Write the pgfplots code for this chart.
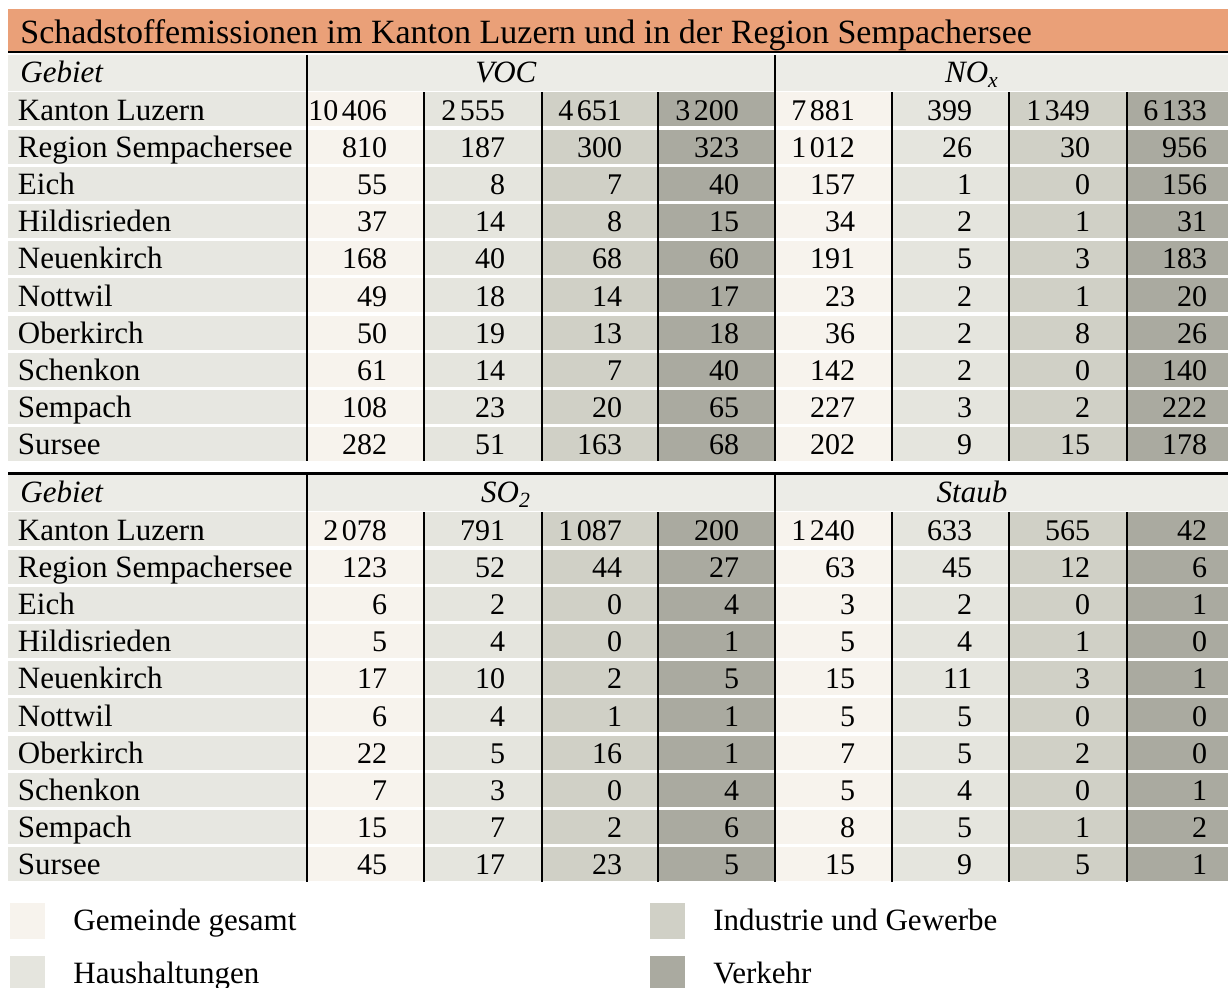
\documentclass[border=0pt]{standalone}
\usepackage{pgfplots}
\pgfplotsset{compat=1.18}
\usepackage{pgfplotstable}
\usepackage{fontspec}
\setmainfont{Liberation Serif}
\definecolor{titleor}{RGB}{234,160,120}
\definecolor{hdr}{RGB}{236,236,231}
\definecolor{lab}{RGB}{231,231,225}
\definecolor{cA}{RGB}{247,243,237}
\definecolor{cB}{RGB}{229,229,222}
\definecolor{cC}{RGB}{208,208,198}
\definecolor{cD}{RGB}{170,170,160}

% VOC: a1..a4, NOx: b1..b4 (gesamt, Haushaltungen, Industrie, Verkehr)
\pgfplotstableread{
name a1 a2 a3 a4 b1 b2 b3 b4
{Kanton Luzern} 10406 2555 4651 3200 7881 399 1349 6133
{Region Sempachersee} 810 187 300 323 1012 26 30 956
Eich 55 8 7 40 157 1 0 156
Hildisrieden 37 14 8 15 34 2 1 31
Neuenkirch 168 40 68 60 191 5 3 183
Nottwil 49 18 14 17 23 2 1 20
Oberkirch 50 19 13 18 36 2 8 26
Schenkon 61 14 7 40 142 2 0 140
Sempach 108 23 20 65 227 3 2 222
Sursee 282 51 163 68 202 9 15 178
}\blockA
% SO2: a1..a4, Staub: b1..b4
\pgfplotstableread{
name a1 a2 a3 a4 b1 b2 b3 b4
{Kanton Luzern} 2078 791 1087 200 1240 633 565 42
{Region Sempachersee} 123 52 44 27 63 45 12 6
Eich 6 2 0 4 3 2 0 1
Hildisrieden 5 4 0 1 5 4 1 0
Neuenkirch 17 10 2 5 15 11 3 1
Nottwil 6 4 1 1 5 5 0 0
Oberkirch 22 5 16 1 7 5 2 0
Schenkon 7 3 0 4 5 4 0 1
Sempach 15 7 2 6 8 5 1 2
Sursee 45 17 23 5 15 9 5 1
}\blockB

\newcommand\numfont{\fontsize{15}{18}\selectfont}
\newcommand\labfont{\fontsize{15.5}{18}\selectfont}

\pgfplotsset{
  numplot/.style={draw=none, mark=none, nodes near coords, point meta=explicit,
    every node near coord/.append style={anchor=base east, inner sep=0pt, outer sep=0pt, font=\numfont, text=black}},
  labplot/.style={draw=none, mark=none, nodes near coords, point meta=explicit symbolic,
    every node near coord/.append style={anchor=base west, inner sep=0pt, outer sep=0pt, font=\labfont, text=black}},
}

\begin{document}
\begin{tikzpicture}
\useasboundingbox (0,0) rectangle (614pt,493.5pt);
\begin{scope}[x=0.5pt,y=-0.5pt,shift={(0pt,493.5pt)}]
  % title bar
  \fill[titleor] (8,9) rectangle (1228,51);
  \fill[black] (8,51) rectangle (1228,53.5);
  \node[anchor=base west, inner sep=0pt, font=\fontsize{17}{20}\selectfont] at (20,44) {Schadstoffemissionen im Kanton Luzern und in der Region Sempachersee};
  % blocks
  \foreach \yH/\hA/\hB in {55/{\textit{VOC}}/{\textit{NO}\textsubscript{\textit{x}}}, 475/{\textit{SO}\textsubscript{\textit{2}}}/{\textit{Staub}}} {
    \fill[hdr] (8,\yH) rectangle (1228,\yH+36);
    \foreach \i in {0,...,9} {
      \pgfmathsetmacro\c{\yH+55+37.2*\i}
      \pgfmathsetmacro\t{\c-17.5}
      \pgfmathsetmacro\b{\c+16.5}
      \fill[lab] (8,\t) rectangle (307,\b);
      \fill[cA] (307,\t) rectangle (424,\b);
      \fill[cB] (424,\t) rectangle (542,\b);
      \fill[cC] (542,\t) rectangle (658,\b);
      \fill[cD] (658,\t) rectangle (775,\b);
      \fill[cA] (775,\t) rectangle (892,\b);
      \fill[cB] (892,\t) rectangle (1009,\b);
      \fill[cC] (1009,\t) rectangle (1127,\b);
      \fill[cD] (1127,\t) rectangle (1228,\b);
    }
    \draw[line width=1pt] (307,\yH) -- (307,\yH+406.5);
    \draw[line width=1pt] (775,\yH) -- (775,\yH+406.5);
    \foreach \xx in {424,542,658,892,1009,1127}
      \draw[line width=0.8pt] (\xx,\yH+37.5) -- (\xx,\yH+406.5);
    \node[anchor=base west, inner sep=0pt, font=\labfont\itshape] at (20,\yH+28) {Gebiet};
    \node[anchor=base, inner sep=0pt, font=\labfont] at (506,\yH+28) {\hA};
    \node[anchor=base, inner sep=0pt, font=\labfont] at (972,\yH+28) {\hB};
  }
  \fill[black] (8,472.5) rectangle (1228,475);
  % legend
  \fill[cA] (10,903) rectangle (45,939);
  \fill[cB] (10,956) rectangle (45,992);
  \fill[cC] (650,903) rectangle (685,939);
  \fill[cD] (650,956) rectangle (685,992);
  \node[anchor=base west, inner sep=0pt, font=\labfont] at (73,930) {Gemeinde gesamt};
  \node[anchor=base west, inner sep=0pt, font=\labfont] at (73,983) {Haushaltungen};
  \node[anchor=base west, inner sep=0pt, font=\labfont] at (713,930) {Industrie und Gewerbe};
  \node[anchor=base west, inner sep=0pt, font=\labfont] at (713,983) {Verkehr};
\end{scope}
\begin{axis}[at={(0pt,0pt)}, anchor=south west, width=614pt, height=493.5pt, scale only axis,
  xmin=0, xmax=1228, ymin=0, ymax=987, y dir=reverse, hide axis, clip=false,
  /pgf/number format/.cd, 1000 sep={\hspace{0.12em}}, assume math mode=true]
  % row labels
  \addplot[labplot] table[x expr=18, y expr=120+37.2*\coordindex, meta=name] {\blockA};
  \addplot[labplot] table[x expr=18, y expr=540+37.2*\coordindex, meta=name] {\blockB};
  % block A values
  \addplot[numplot] table[x expr=387,  y expr=120+37.2*\coordindex, meta=a1] {\blockA};
  \addplot[numplot] table[x expr=505,  y expr=120+37.2*\coordindex, meta=a2] {\blockA};
  \addplot[numplot] table[x expr=622,  y expr=120+37.2*\coordindex, meta=a3] {\blockA};
  \addplot[numplot] table[x expr=739,  y expr=120+37.2*\coordindex, meta=a4] {\blockA};
  \addplot[numplot] table[x expr=855,  y expr=120+37.2*\coordindex, meta=b1] {\blockA};
  \addplot[numplot] table[x expr=972,  y expr=120+37.2*\coordindex, meta=b2] {\blockA};
  \addplot[numplot] table[x expr=1090, y expr=120+37.2*\coordindex, meta=b3] {\blockA};
  \addplot[numplot] table[x expr=1207, y expr=120+37.2*\coordindex, meta=b4] {\blockA};
  % block B values
  \addplot[numplot] table[x expr=387,  y expr=540+37.2*\coordindex, meta=a1] {\blockB};
  \addplot[numplot] table[x expr=505,  y expr=540+37.2*\coordindex, meta=a2] {\blockB};
  \addplot[numplot] table[x expr=622,  y expr=540+37.2*\coordindex, meta=a3] {\blockB};
  \addplot[numplot] table[x expr=739,  y expr=540+37.2*\coordindex, meta=a4] {\blockB};
  \addplot[numplot] table[x expr=855,  y expr=540+37.2*\coordindex, meta=b1] {\blockB};
  \addplot[numplot] table[x expr=972,  y expr=540+37.2*\coordindex, meta=b2] {\blockB};
  \addplot[numplot] table[x expr=1090, y expr=540+37.2*\coordindex, meta=b3] {\blockB};
  \addplot[numplot] table[x expr=1207, y expr=540+37.2*\coordindex, meta=b4] {\blockB};
\end{axis}
\end{tikzpicture}
\end{document}
